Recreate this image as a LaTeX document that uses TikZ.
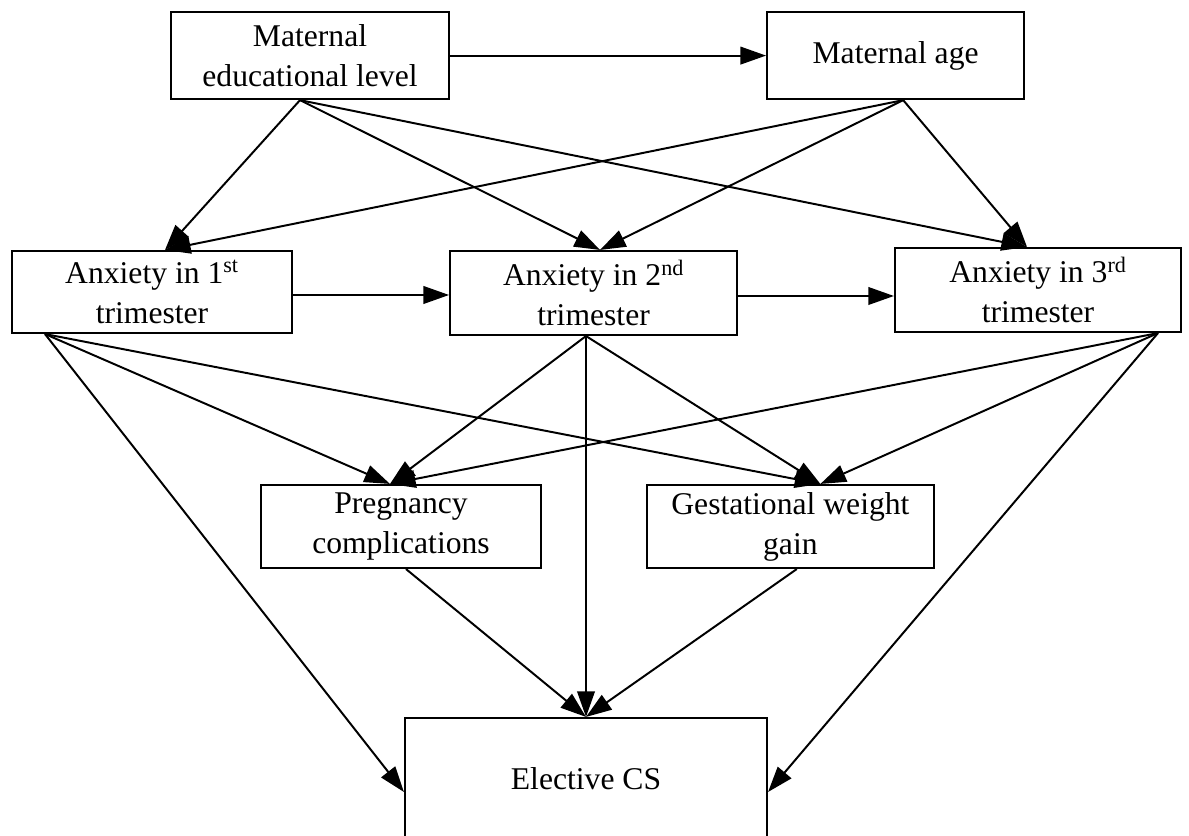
\documentclass[tikz,border=0pt]{standalone}
\usepackage{fontspec}
\setmainfont{Liberation Serif}
\usepackage{tikz}
\usetikzlibrary{arrows.meta}

\begin{document}
\begin{tikzpicture}[
  box/.style={draw, line width=1.5pt, align=center, inner sep=0pt,
    font=\fontsize{22.5}{28.5}\selectfont},
  link/.style={line width=1.4pt, -{Triangle[length=6.4mm, width=4.4mm]}},
]
  \useasboundingbox (0,0) rectangle (29.725,20.9);

  \node[box, minimum width=6.95cm, minimum height=2.175cm] (edu) at (7.75,19.51)
    {Maternal\\educational level};
  \node[box, minimum width=6.425cm, minimum height=2.175cm] (age) at (22.39,19.51)
    {Maternal age};

  \node[box, minimum width=7cm, minimum height=2.05cm] (anx1) at (3.8,13.6)
    {Anxiety in 1\textsuperscript{st}\\trimester};
  \node[box, minimum width=7.175cm, minimum height=2.1cm] (anx2) at (14.84,13.575)
    {Anxiety in 2\textsuperscript{nd}\\trimester};
  \node[box, minimum width=7.15cm, minimum height=2.1cm] (anx3) at (25.95,13.65)
    {Anxiety in 3\textsuperscript{rd}\\trimester};

  \node[box, minimum width=7cm, minimum height=2.075cm] (preg) at (10.025,7.7375)
    {Pregnancy\\complications};
  \node[box, minimum width=7.175cm, minimum height=2.075cm] (gwg) at (19.76,7.7375)
    {Gestational weight\\gain};

  \node[box, minimum width=9.05cm, minimum height=3.05cm] (ecs) at (14.65,1.425)
    {Elective CS};

  \draw[link] (edu.east) -- (age.west);
  \draw[link] ([xshift=-0.25cm]edu.south) -- ([xshift=0.325cm]anx1.north);
  \draw[link] ([xshift=-0.25cm]edu.south) -- ([xshift=0.16cm]anx2.north);
  \draw[link] ([xshift=-0.25cm]edu.south) -- ([xshift=-0.275cm]anx3.north);
  \draw[link] ([xshift=0.19cm]age.south) -- ([xshift=0.325cm]anx1.north);
  \draw[link] ([xshift=0.19cm]age.south) -- ([xshift=0.16cm]anx2.north);
  \draw[link] ([xshift=0.19cm]age.south) -- ([xshift=-0.275cm]anx3.north);

  \draw[link] ([yshift=-0.075cm]anx1.east) -- ([yshift=-0.075cm]anx1.east -| anx2.west);
  \draw[link] ([yshift=-0.075cm]anx2.east) -- ([yshift=-0.075cm]anx2.east -| anx3.west);

  \draw[link] ([xshift=-2.675cm]anx1.south) -- ([xshift=-0.275cm]preg.north);
  \draw[link] ([xshift=-2.675cm]anx1.south) -- ([xshift=0.75cm]gwg.north);
  \draw[link] ([xshift=-2.675cm]anx1.south) -- ([yshift=-0.325cm]ecs.west);
  \draw[link] ([xshift=-0.19cm]anx2.south) -- ([xshift=-0.275cm]preg.north);
  \draw[link] ([xshift=-0.19cm]anx2.south) -- (ecs.north);
  \draw[link] ([xshift=-0.19cm]anx2.south) -- ([xshift=0.75cm]gwg.north);
  \draw[link] ([xshift=3cm]anx3.south) -- ([xshift=-0.275cm]preg.north);
  \draw[link] ([xshift=3cm]anx3.south) -- ([xshift=0.75cm]gwg.north);
  \draw[link] ([xshift=3cm]anx3.south) -- ([yshift=-0.325cm]ecs.east);

  \draw[link] ([xshift=0.125cm]preg.south) -- (ecs.north);
  \draw[link] ([xshift=0.16cm]gwg.south) -- (ecs.north);
\end{tikzpicture}
\end{document}
